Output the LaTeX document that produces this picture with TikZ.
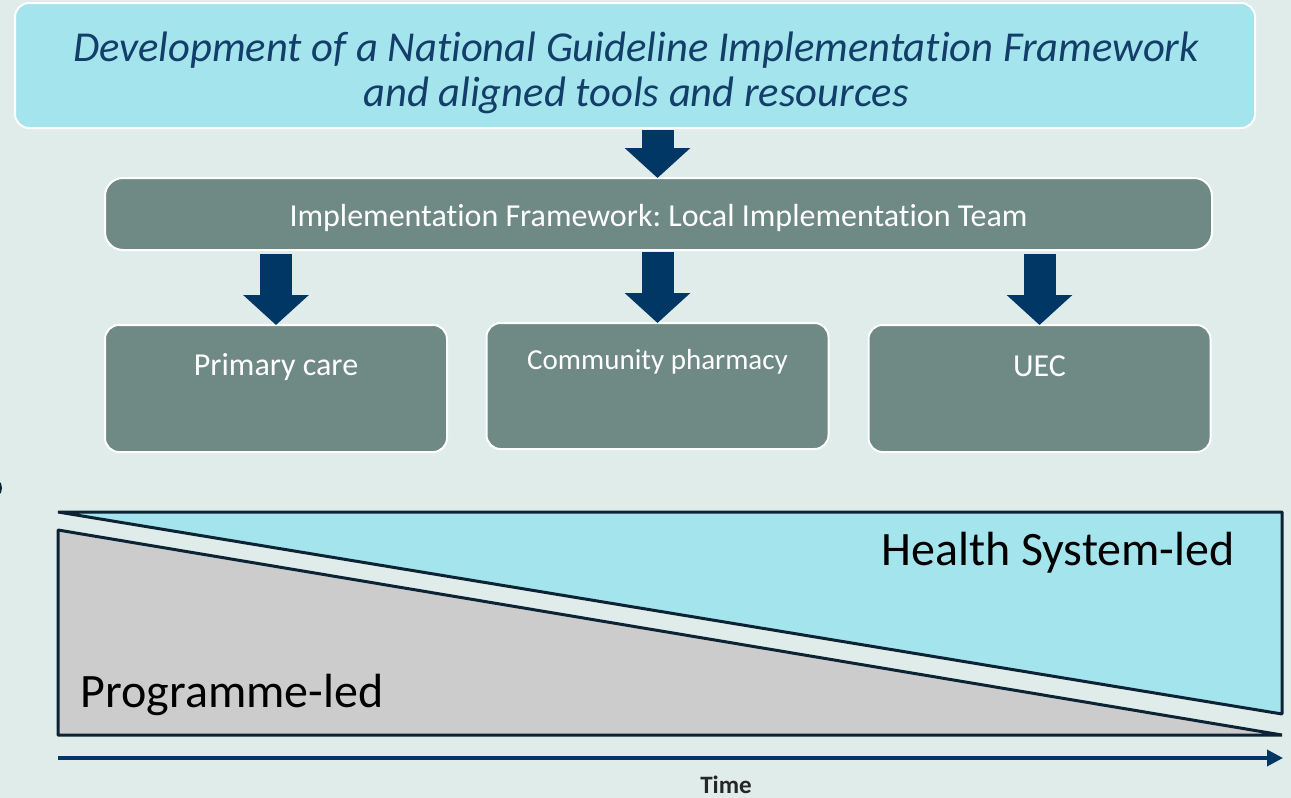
\documentclass[tikz,border=0pt]{standalone}
\usepackage{fontspec}
\setmainfont{Carlito}[Ligatures={NoCommon}]
\frenchspacing
\usetikzlibrary{arrows.meta}
\definecolor{bgc}{HTML}{E0ECEA}
\definecolor{lightcyan}{HTML}{A4E4EC}
\definecolor{sage}{HTML}{6F8A84}
\definecolor{navy}{HTML}{003764}
\definecolor{titleblue}{HTML}{123E69}
\definecolor{outl}{HTML}{0C2335}
\definecolor{greyfill}{HTML}{CCCCCC}
\definecolor{timegray}{HTML}{262626}
\tikzset{
  panel/.style={draw=white, line width=1pt, rounded corners=7pt, outer sep=0pt, inner sep=0pt},
  unitbox/.style={panel, fill=sage, minimum width=171pt, minimum height=63.5pt},
  unittext/.style={text=white, font=\fontsize{16}{19}\selectfont, anchor=base, inner sep=0pt},
  blockarrow/.style={draw=navy, line width=16pt, -{Triangle[length=15pt,width=32pt]}},
  wedge/.style={draw=outl, line width=1.5pt, line join=bevel},
  bigtext/.style={font=\fontsize{24}{28}\selectfont, text=black, anchor=base, inner sep=0pt}
}
\begin{document}
\begin{tikzpicture}[x=0.5pt, y=-0.5pt]
\useasboundingbox (0,0) rectangle (1291,798);
\clip (0,0) rectangle (1291,798);
\fill[bgc] (0,0) rectangle (1291,798);
% stray shape at left edge
\fill[outl] (-9,488) circle (11);

% top box
\node[panel, fill=lightcyan, minimum width=620pt, minimum height=62.5pt] (top) at (635,65.5) {};
\node[text=titleblue, align=center, inner sep=0pt,
      font=\fontsize{21.3}{22.5}\selectfont\itshape] (toptext) at (636,73)
  {Development of a National Guideline Implementation Framework\\and aligned tools and resources};

% framework bar
\node[panel, fill=sage, rounded corners=9pt, minimum width=553.5pt, minimum height=36pt] (fw) at (658.5,214) {};
\node[unittext] (fwtext) at (658.5,226) {Implementation Framework: Local Implementation Team};

% three unit boxes
\node[unitbox] (pc) at (276,388.5) {};
\node[unitbox, minimum height=63pt] (cp) at (657.5,386) {};
\node[unitbox] (uec) at (1039.5,388.5) {};
\node[unittext] (pctext) at (276,375) {Primary care};
\node[unittext, font=\fontsize{14.5}{17}\selectfont] (cptext) at (657.5,369) {Community pharmacy};
\node[unittext] (uectext) at (1039.5,376) {UEC};

% block arrows
\draw[blockarrow] ([yshift=-1pt]top.south -| cp.north) -- (fw.north -| cp.north);
\draw[blockarrow] ([yshift=-2pt]fw.south -| pc.north) -- (pc.north);
\draw[blockarrow] ([yshift=-1pt]fw.south -| cp.north) -- (cp.north);
\draw[blockarrow] ([yshift=-2pt]fw.south -| uec.north) -- (uec.north);

% wedges
\coordinate (b1) at (58,512);
\coordinate (b2) at (1282,512);
\coordinate (b3) at (1282,714);
\coordinate (g1) at (58,530);
\coordinate (g2) at (1282,735);
\coordinate (g3) at (58,735);
\filldraw[wedge, fill=lightcyan] (b1) -- (b2) -- (b3) -- cycle;
\filldraw[wedge, fill=greyfill] (g1) -- (g2) -- (g3) -- cycle;
\node[bigtext] (hs) at (1058,565) {Health System-led};
\node[bigtext] (pl) at (232,707) {Programme-led};

% time axis
\coordinate (t0) at (58,758);
\coordinate (t1) at (1283,758);
\draw[navy, line width=1.75pt, -{Triangle[length=8pt,width=8pt]}] (t0) -- (t1);
\node[font=\fontsize{12.5}{15}\selectfont\bfseries, text=timegray, anchor=base, inner sep=0pt] (time) at (726,793) {Time};
\end{tikzpicture}
\end{document}
